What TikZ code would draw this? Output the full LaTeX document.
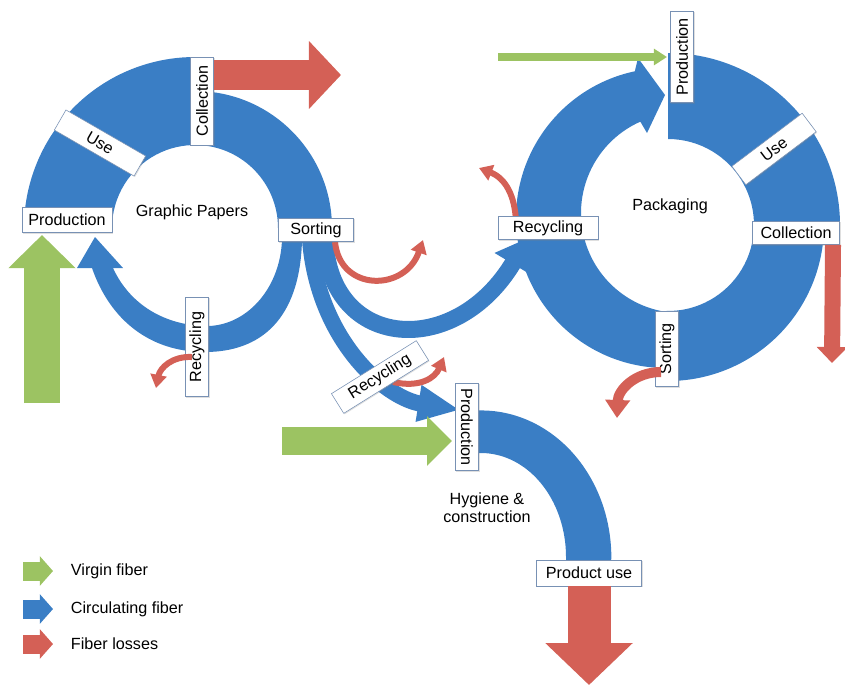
\documentclass[tikz,border=0pt]{standalone}
\usepackage{fontspec}
\setmainfont{Liberation Sans}
\usetikzlibrary{arrows.meta,calc,shadows}

\definecolor{virgin}{RGB}{156,195,98}
\definecolor{circ}{RGB}{58,126,197}
\definecolor{loss}{RGB}{212,96,86}
\definecolor{rim}{RGB}{120,145,180}

\begin{document}
\begin{tikzpicture}[%
    x=0.025cm,
    y=-0.025cm,
    font=\fontsize{11.5}{13}\selectfont,
    stage/.style={%
      draw=rim,
      fill=white,
      inner sep=1pt,
      minimum height=0.58cm,
      drop shadow={shadow xshift=0.7pt,shadow yshift=-0.7pt,opacity=0.25}
    },
    fat/.style n args={3}{line width=#1,-{Triangle[width=#2,length=#3]}},
    leak/.style={draw=loss,fat={0.15cm}{0.4cm}{0.33cm}}
  ]
    \useasboundingbox (0,0) rectangle (845,686);

    % centres of the loops
    \coordinate (G) at (195,228);
    \coordinate (P) at (668,225);
    \coordinate (Pout) at (666,218);
    \coordinate (Pin) at (681,213);

    % graphic papers loop
    \fill[circ] ($(G)+(180:171)$) arc[start angle=180,end angle=272,radius=171]
      -- ($(G)+(272:83)$) arc[start angle=272,end angle=180,radius=83] -- cycle;
    \fill[circ] ($(G)+(271:137)$) arc[start angle=271,end angle=360,radius=137]
      -- ($(G)+(360:83)$) arc[start angle=360,end angle=271,radius=83] -- cycle;
    \fill[circ] (302,240) .. controls (300,320) and (260,352) .. (205,352)
      .. controls (150,352) and (110,320) .. (92,268)
      -- (77,268) -- (95,237) -- (123,268) -- (113,268)
      .. controls (130,305) and (165,325) .. (205,326)
      .. controls (245,327) and (280,290) .. (282,240) -- cycle;

    % packaging loop
    \fill[circ] ($(P)+(270:172)$) arc[start angle=270,end angle=361,radius=172]
      -- ($(P)+(361:86)$) arc[start angle=361,end angle=270,radius=86] -- cycle;
    \fill[circ] ($(P)+(0:156)$) arc[start angle=0,end angle=91,radius=156]
      -- ($(P)+(91:86)$) arc[start angle=91,end angle=0,radius=86] -- cycle;
    \fill[circ] ($(Pout)+(90:150)$) arc[start angle=90,end angle=258,radius=150]
      -- (638,58) -- (665,95) -- (647,133) -- ($(Pin)+(246:100)$)
      arc[start angle=246,end angle=95,radius=100] -- cycle;

    % hygiene & construction
    \fill[circ] (470,411) arc[start angle=265,end angle=360,x radius=130,y radius=147]
      -- (611,563) -- (566,563) -- (566,557)
      arc[start angle=360,end angle=265,x radius=85,y radius=104] -- cycle;

    % branches out of sorting
    \draw[circ,fat={0.4cm}{0.85cm}{1.05cm}] (310,240) .. controls (318,340) and (385,398) .. (460,410);
    \draw[circ,fat={0.425cm}{1cm}{0.75cm}] (325,240) .. controls (330,350) and (455,360) .. (528,238);

    % virgin fiber in
    \coordinate (gpfeed) at (42,403);
    \coordinate (pkfeed) at (498,57);
    \coordinate (hyfeed) at (282,441);
    \draw[virgin,fat={0.875cm}{1.625cm}{0.825cm}] (gpfeed) -- (gpfeed |- 0,235);
    \draw[virgin,fat={0.2cm}{0.4cm}{0.33cm}] (pkfeed) -- (667,57);
    \draw[virgin,fat={0.7cm}{1.2cm}{0.625cm}] (hyfeed) -- (452,441);

    % labels
    \node[stage,minimum width=2.25cm,minimum height=0.63cm] (gpprod) at (67,220) {Production};
    \node[stage,minimum width=2.3cm,rotate=-30] (gpuse) at (100,143) {Use};
    \node[stage,minimum width=2.2cm,rotate=90] (gpcoll) at (202,101) {Collection};
    \node[stage,minimum width=2.475cm,rotate=90] (gprec) at (197,347) {Recycling};
    \node[stage,minimum width=2.275cm,rotate=90] (pkprod) at (682,57) {Production};
    \node[stage,minimum width=2.2cm,rotate=37] (pkuse) at (774,149) {Use};
    \node[stage,minimum width=2.175cm] (pkcoll) at (796,233) {Collection};
    \node[stage,minimum width=1.875cm,rotate=90] (pksort) at (667,349) {Sorting};
    \node[stage,minimum width=2.175cm,rotate=-90] (hyprod) at (467,427) {Production};
    \node[stage,minimum width=2.625cm,minimum height=0.65cm] (hyuse) at (589,573) {Product use};

    % fiber losses
    \draw[loss,fat={0.75cm}{1.65cm}{0.8cm}] ($(gpcoll.south)+(0,-26)$) -- (341,75);
    \draw[loss,fat={0.4cm}{0.75cm}{0.4cm}] ($(pkcoll.south)+(37,0)$) -- (832,363);
    \draw[loss,fat={1.075cm}{2.125cm}{1.05cm}] (hyuse.south) -- (589,685);
    \draw[leak] ($(gprec)+(-5,10)$) .. controls (172,356) and (160,368) .. (156,388);
    \draw[leak] (335,242) .. controls (340,292) and (405,292) .. (423,240);
    \draw[leak] (393,382) .. controls (420,388) and (435,378) .. (444,357);
    \draw[leak] (516,222) .. controls (515,195) and (505,178) .. (479,168);
    \draw[loss,fat={0.25cm}{0.6cm}{0.45cm}] ($(pksort)+(-6,23)$) .. controls (635,372) and (618,390) .. (617,418);

    % labels drawn over the branches
    \node[stage,minimum width=1.875cm] (gpsort) at (316,230) {Sorting};
    \node[stage,minimum width=2.5cm] (pkrec) at (548,228) {Recycling};
    \node[stage,minimum width=2.5cm,rotate=32] (hyrec) at (380,377) {Recycling};

    % titles
    \node (gptitle) at (192,212) {Graphic Papers};
    \node (pktitle) at (670,206) {Packaging};
    \node[align=center] (hytitle) at (487,508) {Hygiene \&\\construction};

    % legend
    \foreach \col/\y/\txt in {virgin/571/Virgin fiber,circ/609/Circulating fiber,loss/644/Fiber losses}{
      \draw[\col,fat={0.475cm}{0.725cm}{0.33cm}] (23,\y) -- (53,\y);
      \node[anchor=west] (key\y) at (66,\y) {\txt};
    }
\end{tikzpicture}
\end{document}
